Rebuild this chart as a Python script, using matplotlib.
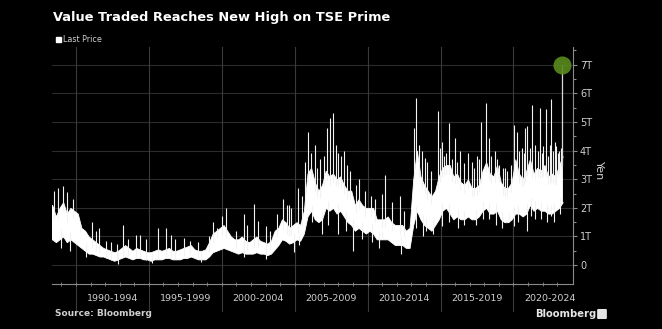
import matplotlib
matplotlib.use("Agg")
import matplotlib.pyplot as plt
import matplotlib.transforms as mtransforms
from matplotlib.patches import Rectangle, FancyBboxPatch
import numpy as np
import pandas as pd

# Quarterly trading range of daily value traded (trillion yen), 1988Q2 - 2023Q2
quarters = pd.period_range("1988Q2", "2023Q2", freq="Q")
low = [
    0.9, 0.8, 0.9,                # 1988
    1.0, 0.8, 0.9, 0.8,           # 1989
    0.7, 0.6, 0.5, 0.4,           # 1990
    0.4, 0.35, 0.3, 0.3,          # 1991
    0.25, 0.2, 0.15, 0.2,         # 1992
    0.25, 0.3, 0.25, 0.2,         # 1993
    0.25, 0.25, 0.2, 0.2,         # 1994
    0.15, 0.2, 0.2, 0.2,          # 1995
    0.25, 0.25, 0.2, 0.2,         # 1996
    0.2, 0.25, 0.25, 0.3,         # 1997
    0.25, 0.2, 0.2, 0.2,          # 1998
    0.3, 0.45, 0.5, 0.55,         # 1999
    0.6, 0.55, 0.5, 0.45,         # 2000
    0.4, 0.45, 0.4, 0.4,          # 2001
    0.4, 0.45, 0.4, 0.4,          # 2002
    0.35, 0.4, 0.55, 0.7,         # 2003
    0.9, 0.85, 0.75, 0.8,         # 2004
    0.9, 0.85, 1.1, 1.7,          # 2005
    1.9, 1.6, 1.5, 1.6,           # 2006
    2.0, 1.9, 2.0, 1.8,           # 2007
    1.9, 1.7, 1.5, 1.4,           # 2008
    1.2, 1.3, 1.2, 1.1,           # 2009
    1.2, 1.1, 0.9, 0.9,           # 2010
    0.9, 0.9, 0.8, 0.7,           # 2011
    0.7, 0.7, 0.6, 0.6,           # 2012
    1.4, 1.9, 1.6, 1.4,           # 2013
    1.3, 1.2, 1.4, 1.6,           # 2014
    1.9, 2.0, 1.8, 1.6,           # 2015
    1.7, 1.6, 1.6, 1.7,           # 2016
    1.6, 1.6, 1.7, 1.9,           # 2017
    2.0, 1.8, 1.8, 1.9,           # 2018
    1.6, 1.5, 1.5, 1.6,           # 2019
    1.8, 1.8, 1.7, 1.8,           # 2020
    2.1, 1.9, 2.0, 1.9,           # 2021
    1.9, 1.8, 1.8, 1.9,           # 2022
    2.0, 2.2,                     # 2023
]
high = [
    2.1, 1.7, 2.0,                # 1988
    2.2, 1.8, 2.0, 1.9,           # 1989
    1.8, 1.3, 1.2, 1.0,           # 1990
    0.9, 0.8, 0.7, 0.6,           # 1991
    0.55, 0.5, 0.45, 0.5,         # 1992
    0.6, 0.7, 0.6, 0.5,           # 1993
    0.6, 0.55, 0.5, 0.45,         # 1994
    0.45, 0.5, 0.55, 0.5,         # 1995
    0.55, 0.6, 0.5, 0.5,          # 1996
    0.55, 0.6, 0.65, 0.7,         # 1997
    0.55, 0.5, 0.5, 0.55,         # 1998
    0.8, 1.1, 1.2, 1.3,           # 1999
    1.4, 1.2, 1.0, 0.9,           # 2000
    0.9, 1.0, 0.85, 0.8,          # 2001
    0.9, 1.0, 0.85, 0.8,          # 2002
    0.75, 0.85, 1.2, 1.3,         # 2003
    1.6, 1.5, 1.3, 1.4,           # 2004
    1.5, 1.4, 1.9, 3.2,           # 2005
    3.4, 2.9, 2.6, 2.8,           # 2006
    3.3, 3.1, 3.2, 3.0,           # 2007
    3.1, 2.8, 2.6, 2.6,           # 2008
    2.1, 2.3, 2.1, 2.0,           # 2009
    2.0, 2.0, 1.6, 1.6,           # 2010
    1.6, 1.7, 1.5, 1.4,           # 2011
    1.4, 1.4, 1.2, 1.3,           # 2012
    3.0, 4.0, 3.1, 2.8,           # 2013
    2.6, 2.4, 2.6, 3.1,           # 2014
    3.4, 3.5, 3.5, 3.1,           # 2015
    3.2, 2.9, 2.8, 3.0,           # 2016
    2.7, 2.7, 2.8, 3.3,           # 2017
    3.6, 3.2, 3.1, 3.5,           # 2018
    2.9, 2.7, 2.7, 2.9,           # 2019
    3.7, 3.2, 3.0, 3.3,           # 2020
    3.7, 3.2, 3.4, 3.3,           # 2021
    3.5, 3.1, 3.2, 3.1,           # 2022
    3.5, 3.8,                     # 2023
]

# Single-day highs that stick out above the quarterly range
spike_years = [
    1988.5, 1988.8, 1989.1, 1989.4, 1989.8, 1990.3, 1991.1, 1991.4, 1991.6,
    1992.05, 1992.4, 1992.8, 1993.2, 1993.6, 1994.1, 1994.4, 1994.8,
    1995.6, 1996.2, 1996.5, 1996.8, 1997.4, 1997.85, 1998.4, 1999.1,
    1999.4, 1999.7, 2000.0, 2000.3, 2001.0, 2001.5, 2001.75, 2002.2, 2002.5,
    2003.0, 2003.3, 2003.8, 2004.2, 2004.5, 2004.6, 2004.75, 2005.2, 2005.5,
    2005.7, 2005.9, 2006.1, 2006.4, 2006.55, 2006.7, 2007.0, 2007.2, 2007.4,
    2007.6, 2007.8, 2008.0, 2008.2, 2008.4, 2008.6, 2008.8, 2009.2, 2009.4,
    2009.85, 2010.2, 2010.5, 2011.0, 2011.2, 2011.65, 2012.2, 2012.5,
    2013.2, 2013.35, 2013.55, 2013.7, 2013.9, 2014.1, 2014.35, 2014.8,
    2014.95, 2015.1, 2015.25, 2015.4, 2015.6, 2015.8, 2016.0, 2016.15,
    2016.35, 2016.6, 2016.85, 2017.15, 2017.3, 2017.5, 2017.65, 2017.8,
    2018.1, 2018.3, 2018.45, 2018.7, 2018.9, 2019.0, 2019.3, 2019.4,
    2019.55, 2019.8, 2020.05, 2020.25, 2020.4, 2020.55, 2020.7, 2020.8,
    2020.95, 2021.1, 2021.3, 2021.5, 2021.65, 2021.8, 2021.95, 2022.0,
    2022.2, 2022.35, 2022.5, 2022.6, 2022.7, 2022.85, 2022.9, 2023.05,
    2023.15, 2023.25,
]
spike_values = [
    2.6, 2.7, 2.75, 2.55, 2.3, 1.4, 1.5, 1.2, 1.3,
    0.85, 0.8, 0.75, 1.4, 0.9, 1.05, 1.05, 0.9,
    1.3, 1.3, 1.05, 0.9, 0.95, 0.85, 0.8, 1.0,
    1.5, 1.3, 1.7, 2.0, 1.2, 1.8, 1.4, 2.15, 1.55,
    1.35, 1.2, 1.8, 2.3, 2.1, 2.1, 2.0, 2.7, 2.4,
    3.6, 4.65, 3.9, 4.2, 3.4, 3.7, 3.8, 4.8, 5.15,
    5.3, 4.2, 3.9, 3.8, 4.0, 3.5, 3.3, 2.8, 3.0,
    2.6, 2.4, 2.3, 2.5, 3.15, 2.2, 2.4, 1.9,
    4.8, 5.85, 4.2, 4.0, 3.75, 3.6, 3.3, 5.4,
    4.1, 4.3, 3.8, 3.9, 4.95, 3.7, 4.45, 3.6,
    4.0, 3.55, 3.9, 3.6, 3.4, 3.8, 3.7, 5.0,
    5.65, 4.45, 3.8, 4.0, 3.7, 3.5, 3.4, 3.4,
    3.3, 3.5, 4.9, 4.65, 4.0, 4.1, 3.9, 4.8,
    4.85, 4.1, 5.6, 4.2, 4.0, 5.5, 3.9, 4.15,
    5.45, 3.8, 4.2, 5.8, 4.0, 4.3, 4.15, 3.9,
    4.0, 4.1,
]

# Single-day lows that drop below the quarterly range
dip_years = [1989.0, 1989.6, 1990.7, 1992.9, 1995.2, 1998.6, 2001.5,
             2003.0, 2004.95, 2005.3, 2006.2, 2006.9, 2007.3, 2008.0,
             2008.5, 2009.0, 2009.6, 2010.3, 2010.8, 2011.0, 2012.3,
             2013.3, 2013.8, 2014.0, 2014.5, 2015.1, 2015.6, 2016.2,
             2016.6, 2017.4, 2017.9, 2018.3, 2018.8, 2019.2, 2019.7,
             2020.05, 2020.3, 2020.9, 2021.2, 2021.5, 2021.9, 2022.3,
             2022.6, 2022.8, 2023.2]
dip_values = [0.6, 0.5, 0.3, 0.05, 0.08, 0.1, 0.3,
              0.2, 0.45, 0.7, 1.5, 1.1, 1.4, 1.1,
              1.2, 0.5, 0.9, 0.8, 0.6, 0.9, 0.4,
              1.3, 1.0, 1.2, 1.1, 1.35, 1.5, 1.3,
              1.4, 1.4, 1.6, 1.6, 1.4, 1.3, 1.5,
              1.35, 1.5, 1.2, 1.7, 1.6, 1.6, 1.5,
              1.7, 1.5, 1.8]

# Record session on the TSE Prime market
record_year = 2023.33
record_value = 7.0

period_labels = ["1990-1994", "1995-1999", "2000-2004", "2005-2009",
                 "2010-2014", "2015-2019", "2020-2024"]
period_starts = [1990, 1995, 2000, 2005, 2010, 2015, 2020]

GRID = "#2c2c2c"
AXIS = "#8a8a8a"
TEXT = "#cfcfcf"

qx = np.array([q.year + (q.quarter - 1) / 4 + 0.125 for q in quarters])
low = np.array(low)
high = np.array(high)
# stretch the band to the first and last trading days shown
xs = np.concatenate([[1988.3], qx, [record_year]])
lo_s = np.concatenate([[low[0]], low, [low[-1]]])
hi_s = np.concatenate([[high[0]], high, [high[-1]]])

fig = plt.figure(figsize=(6.62, 3.29), dpi=100, facecolor="black")
ax = fig.add_axes([52 / 662, 45 / 329, 521 / 662, 237 / 329], facecolor="black")
ax.set_xlim(1988.36, 2024.08)
ax.set_ylim(-0.66, 7.62)

# horizontal grid
for v in range(0, 8):
    ax.axhline(v, color=GRID, lw=0.8, zorder=0)

# vertical period separators run down through the label row
trans = mtransforms.blended_transform_factory(ax.transData, ax.transAxes)
for yr in period_starts:
    ax.plot([yr, yr], [-0.115, 1.0], transform=trans, color="#3a3a3a",
            lw=0.8, clip_on=False, zorder=0)

# the series: quarterly band plus the daily extremes around it
ax.fill_between(xs, lo_s, hi_s, color="white", lw=0.6, edgecolor="white", zorder=2)


def band_at(years, values):
    return np.interp(years, xs, values)


ax.vlines(spike_years, band_at(spike_years, hi_s) - 0.3, spike_values,
          color="#f2f2f2", lw=0.8, zorder=2)
ax.vlines(dip_years, dip_values, band_at(dip_years, lo_s) + 0.3,
          color="#f2f2f2", lw=0.8, zorder=2)
ax.vlines([record_year], band_at(record_year, hi_s) - 0.3, record_value,
          color="#d8d8d8", lw=0.9, zorder=2)

# highlight the record day
ax.scatter([record_year], [record_value], s=170, color="#5a8a1e",
           alpha=0.9, zorder=3, linewidths=0)

# axes styling
for side in ["top", "left"]:
    ax.spines[side].set_visible(False)
ax.spines["bottom"].set_color(AXIS)
ax.spines["right"].set_color(AXIS)
ax.spines["bottom"].set_linewidth(0.8)
ax.spines["right"].set_linewidth(0.8)

ax.yaxis.tick_right()
ax.set_yticks(range(0, 8))
ax.set_yticks(np.arange(0.5, 7.6, 1.0), minor=True)
ax.set_yticklabels(["0"] + [f"{v}T" for v in range(1, 8)])
ax.tick_params(axis="y", which="both", colors=AXIS, labelcolor=TEXT,
               labelsize=7, length=3, width=0.8, pad=2)
ax.tick_params(axis="y", which="minor", length=2)

ax.set_xticks([])
ax.set_xticks(np.arange(1989, 2024), minor=True)
ax.tick_params(axis="x", which="minor", direction="inout", length=3,
               width=0.6, colors=AXIS)

for yr, lab in zip(period_starts, period_labels):
    ax.text(yr + 2.5, -0.06, lab, transform=trans, ha="center", va="center",
            color=TEXT, fontsize=6.8)

ax.text(1.05, 0.48, "Yen", transform=ax.transAxes, rotation=270,
        ha="center", va="center", color=TEXT, fontsize=8)

# title, legend and footer
fig.text(53 / 662, 1 - 17 / 329, "Value Traded Reaches New High on TSE Prime",
         color="white", fontsize=9.4, fontweight="bold", va="center")
fig.patches.append(Rectangle((56 / 662, 1 - 42 / 329), 5 / 662, 5 / 329,
                             transform=fig.transFigure, color="white"))
fig.text(63 / 662, 1 - 39.5 / 329, "Last Price", color=TEXT, fontsize=5.8,
         va="center")
fig.text(55 / 662, 1 - 314 / 329, "Source: Bloomberg", color=TEXT,
         fontsize=6.5, fontweight="bold", va="center")
fig.text(596 / 662, 1 - 314 / 329, "Bloomberg", color="#e6e6e6",
         fontsize=7.2, fontweight="bold", ha="right", va="center")
fig.patches.append(FancyBboxPatch((598.5 / 662, 1 - 318 / 329), 7 / 662, 8 / 329,
                                  boxstyle="round,pad=0.001",
                                  transform=fig.transFigure, color="#e6e6e6"))

fig.savefig("out.png", dpi=100, facecolor="black")
